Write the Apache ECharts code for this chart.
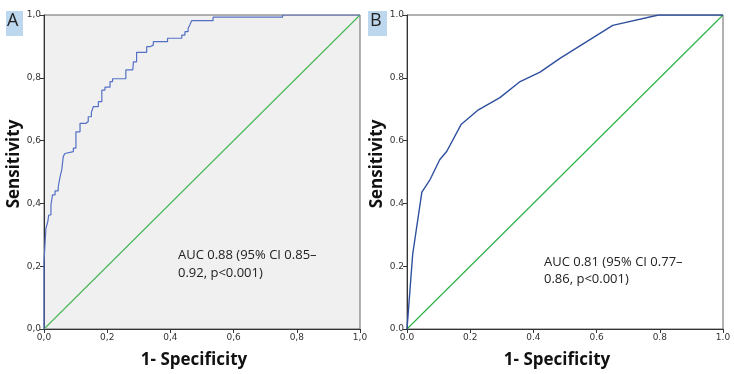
<!DOCTYPE html>
<html><head><meta charset="utf-8">
<script src="https://cdn.jsdelivr.net/npm/echarts@6/dist/echarts.min.js"></script>
<style>html,body{margin:0;padding:0;background:#fff}#c{width:734px;height:374px}</style>
</head><body><div id="c"></div>
<script>
// Panel A ROC (step curve)
const fprA = [0,0,0.006,0.012,0.015,0.022,0.027,0.035,0.045,0.051,0.056,0.061,0.066,0.072,0.093,0.101,0.114,0.133,0.140,0.150,0.156,0.172,0.183,0.193,0.209,0.217,0.259,0.281,0.283,0.293,0.325,0.335,0.346,0.391,0.436,0.446,0.456,0.462,0.467,0.535,0.755,1];
const tprA = [0,0.214,0.32,0.342,0.363,0.395,0.427,0.44,0.453,0.485,0.506,0.549,0.559,0.565,0.576,0.628,0.655,0.661,0.676,0.69,0.708,0.724,0.761,0.770,0.788,0.797,0.825,0.825,0.851,0.881,0.899,0.904,0.915,0.926,0.936,0.947,0.957,0.97,0.982,0.993,1.0,1];
// Panel B ROC
const fprB = [0,0.018,0.047,0.073,0.104,0.126,0.171,0.226,0.294,0.358,0.421,0.484,0.651,0.796,1];
const tprB = [0,0.238,0.436,0.476,0.54,0.566,0.651,0.698,0.737,0.788,0.818,0.862,0.967,1.0,1];
// Reference diagonal
const diagX = [0,1];
const diagY = [0,1];
const ticksA = ['0,0','0,2','0,4','0,6','0,8','1,0'];
const ticksB = ['0.0','0.2','0.4','0.6','0.8','1.0'];
const panelLabels = ['A','B'];
const aucTextA = ['AUC 0.88 (95% CI 0.85–','0.92, p<0.001)'];
const aucTextB = ['AUC 0.81 (95% CI 0.77–','0.86, p<0.001)'];
const xTitle = '1- Specificity';
const yTitle = 'Sensitivity';

const zip = (a,b)=>a.map((v,i)=>[v,b[i]]);
const chart = echarts.init(document.getElementById('c'));
function xAx(idx, ticks){
  return {type:'value', gridIndex:idx, min:0, max:1, interval:0.2,
    name:xTitle, nameLocation:'middle', nameGap:23,
    nameTextStyle:{fontFamily:'Open Sans', fontWeight:'bold', fontSize:17, color:'#111', padding:[0,16,0,0]},
    axisLine:{show:true, lineStyle:{color:'#333', width:1}},
    axisTick:{show:true, length:4, lineStyle:{color:'#333'}},
    axisLabel:{formatter:v=>ticks[Math.round(v/0.2)], fontFamily:'DejaVu Sans', fontSize:9, color:'#333', margin:4},
    splitLine:{show:false}};
}
function yAx(idx, ticks){
  return {type:'value', gridIndex:idx, min:0, max:1, interval:0.2,
    name:yTitle, nameLocation:'middle', nameGap:20,
    nameTextStyle:{fontFamily:'Open Sans', fontWeight:'bold', fontSize:17, color:'#111', padding:[0,0,0,16]},
    axisLine:{show:true, lineStyle:{color:'#333', width:1}},
    axisTick:{show:true, length:4, lineStyle:{color:'#333'}},
    axisLabel:{formatter:v=>ticks[Math.round(v/0.2)], fontFamily:'DejaVu Sans', fontSize:9, color:'#333', margin:3},
    splitLine:{show:false}};
}
const txtStyle = {fontFamily:'Open Sans', fontSize:13, fill:'#222'};
chart.setOption({
  animation:false,
  backgroundColor:'#fff',
  grid:[
    {left:44, top:15, width:316, height:314, show:true, backgroundColor:'#f0f0f0', borderColor:'#666', borderWidth:1},
    {left:407, top:15, width:316, height:315, show:true, backgroundColor:'#fff', borderColor:'#666', borderWidth:1}
  ],
  xAxis:[xAx(0,ticksA), xAx(1,ticksB)],
  yAxis:[yAx(0,ticksA), yAx(1,ticksB)],
  series:[
    {type:'line', xAxisIndex:0, yAxisIndex:0, data:zip(diagX,diagY), symbol:'none', lineStyle:{color:'#44b855', width:1.1}},
    {type:'line', xAxisIndex:0, yAxisIndex:0, data:zip(fprA,tprA), step:'end', symbol:'none', lineStyle:{color:'#5470c6', width:1.2}},
    {type:'line', xAxisIndex:1, yAxisIndex:1, data:zip(diagX,diagY), symbol:'none', lineStyle:{color:'#2db34a', width:1.2}},
    {type:'line', xAxisIndex:1, yAxisIndex:1, data:zip(fprB,tprB), symbol:'none', lineStyle:{color:'#2f4f9f', width:1.4}}
  ],
  graphic:[
    {type:'rect', left:6, top:11, shape:{width:17, height:25}, style:{fill:'#bdd7ee'}},
    {type:'text', left:7, top:12, style:{text:panelLabels[0], fontFamily:'Open Sans', fontSize:18, fill:'#222'}},
    {type:'rect', left:368, top:11, shape:{width:19, height:25}, style:{fill:'#bdd7ee'}},
    {type:'text', left:370, top:12, style:{text:panelLabels[1], fontFamily:'Open Sans', fontSize:18, fill:'#222'}},
    {type:'text', left:178, top:246, style:Object.assign({text:aucTextA.join('\n'), lineHeight:18}, txtStyle)},
    {type:'text', left:544, top:254, style:Object.assign({text:aucTextB.join('\n'), lineHeight:17}, txtStyle)}
  ]
});
</script></body></html>
